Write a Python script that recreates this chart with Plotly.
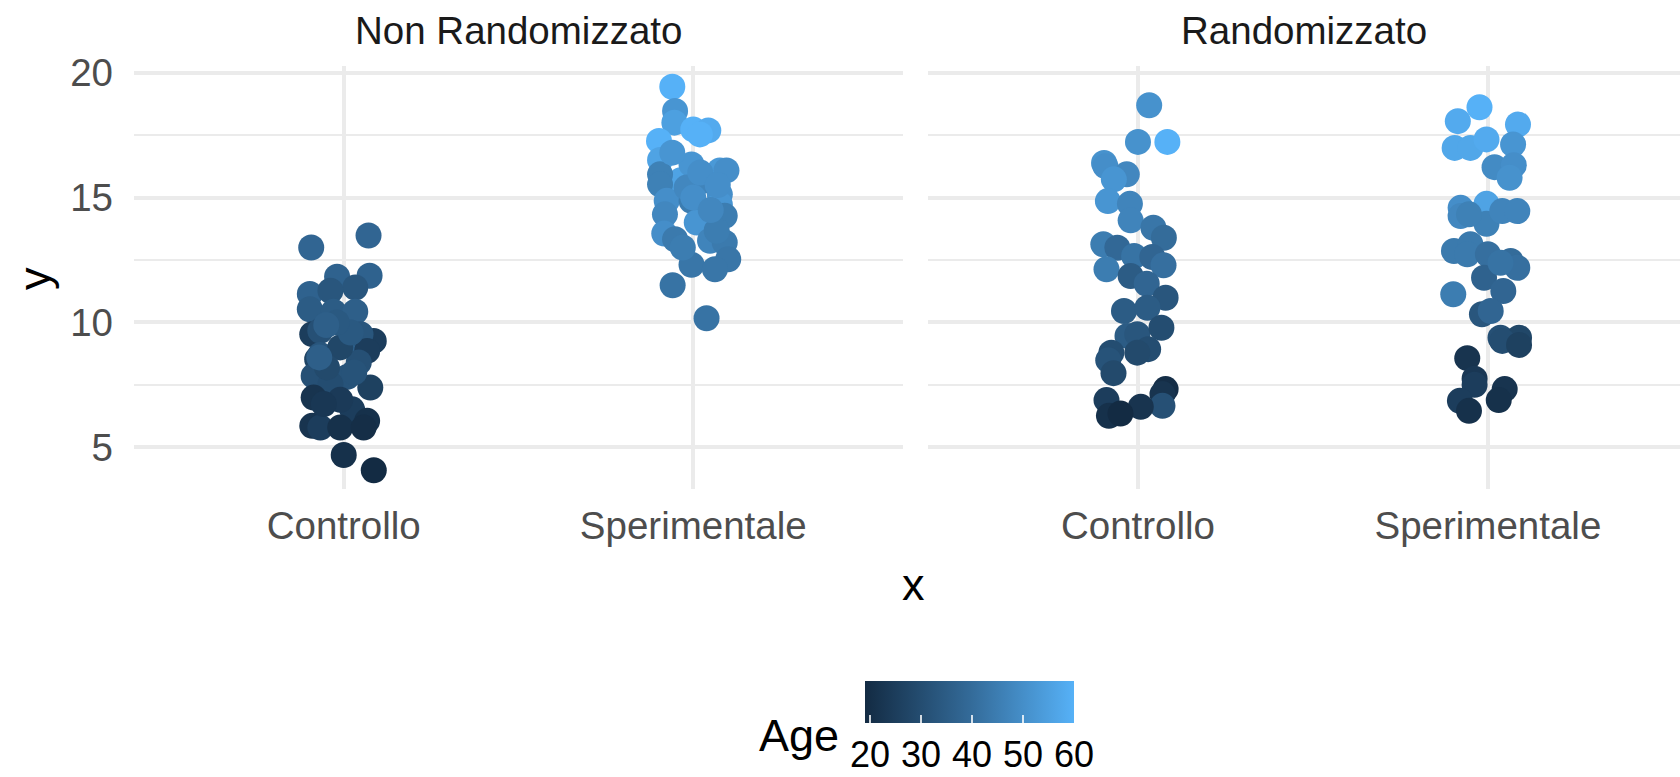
import plotly.graph_objects as go

# Group labels
categories = ["Controllo", "Sperimentale"]
panels = ["Non Randomizzato", "Randomizzato"]

# Non Randomizzato - Controllo
nr_ctrl_jitter = [-0.093, 0.071, -0.019, 0.074, -0.097, 0.033, -0.038, -0.097, -0.029, 0.033,
                  -0.090, -0.067, 0.086, 0.024, 0.048, -0.067, -0.076, 0.067, 0.010, -0.086,
                  -0.038, 0.043, 0.076, -0.086, 0.024, -0.090, -0.067, -0.010, 0.067, 0.057,
                  0.000, 0.086, -0.010, -0.048, -0.010, -0.057, -0.070, 0.020, -0.020, 0.030,
                  -0.050]
nr_ctrl_y = [13.0, 13.48, 11.83, 11.87, 11.14, 11.4, 11.27, 10.53, 10.43, 10.43,
             9.53, 9.67, 9.26, 9.33, 9.53, 8.70, 8.53, 8.86, 7.82, 7.86,
             7.53, 8.40, 7.39, 6.99, 6.52, 5.86, 5.79, 5.79, 6.06, 5.79,
             4.69, 4.08, 9.0, 8.2, 6.9, 6.73, 8.6, 9.6, 10.0, 8.0,
             9.9]
nr_ctrl_age = [38, 38, 37, 37, 37, 33, 33, 35, 35, 36,
               25, 31, 25, 37, 33, 33, 27, 25, 32, 31,
               30, 31, 26, 22, 25, 22, 25, 21, 21, 20,
               21, 19, 28, 29, 24, 23, 36, 34, 34, 32,
               36]

# Non Randomizzato - Sperimentale
nr_sper_jitter = [-0.060, -0.052, -0.054, 0.000, 0.043, 0.019, -0.098, -0.095, 0.076, 0.095,
                  -0.036, -0.005, -0.095, -0.095, 0.076, 0.076, 0.090, -0.076, -0.081, -0.005,
                  0.010, -0.083, -0.052, 0.048, 0.090, -0.005, 0.100, 0.062, -0.059, 0.038,
                  0.029, -0.019, 0.067, -0.060, 0.000, 0.050, -0.030, 0.020, 0.070]
nr_sper_y = [19.44, 18.47, 18.0, 17.73, 17.69, 17.53, 17.27, 16.51, 16.09, 16.09,
             15.69, 16.33, 15.93, 15.53, 15.13, 14.73, 14.27, 14.87, 14.33, 14.87,
             14.0, 13.56, 13.33, 13.27, 13.20, 12.31, 12.53, 12.13, 11.49, 10.17,
             15.67, 15.4, 13.67, 16.8, 15.0, 14.5, 13.0, 16.0, 15.5]
nr_sper_age = [60, 52, 55, 60, 58, 60, 60, 56, 53, 50,
               56, 52, 46, 46, 50, 52, 45, 50, 48, 45,
               52, 50, 44, 47, 44, 43, 43, 43, 42, 42,
               47, 48, 45, 52, 50, 48, 45, 50, 50]

# Randomizzato - Controllo
r_ctrl_jitter = [0.032, 0.000, 0.084, -0.097, -0.093, -0.032, -0.069, -0.086, -0.023, -0.021,
                 0.044, 0.074, -0.099, -0.059, -0.011, 0.041, 0.073, -0.090, -0.021, 0.025,
                 0.079, -0.040, 0.027, -0.030, -0.002, 0.067, 0.029, -0.076, -0.085, -0.070,
                 -0.002, 0.079, 0.070, -0.090, 0.070, 0.008, -0.083, -0.050]
r_ctrl_y = [18.7, 17.23, 17.23, 16.39, 16.26, 15.93, 15.73, 14.86, 14.75, 14.09,
            13.79, 13.39, 13.13, 12.99, 12.66, 12.62, 12.29, 12.13, 11.86, 11.55,
            10.99, 10.46, 10.59, 9.46, 9.53, 9.79, 8.93, 8.79, 8.49, 7.97,
            8.79, 7.33, 7.13, 6.89, 6.66, 6.62, 6.26, 6.35]
r_ctrl_age = [51, 51, 60, 51, 50, 48, 52, 52, 47, 47,
              43, 40, 45, 39, 42, 38, 41, 45, 35, 38,
              33, 35, 35, 35, 33, 30, 30, 30, 32, 29,
              29, 20, 22, 25, 31, 22, 21, 19]

# Randomizzato - Sperimentale
r_sper_jitter = [-0.024, -0.086, 0.086, -0.095, -0.050, -0.004, 0.072, 0.019, 0.074, 0.062,
                 -0.078, -0.078, -0.004, -0.004, -0.054, 0.041, 0.084, -0.097, -0.050, -0.059,
                 0.000, -0.011, 0.065, 0.084, 0.036, -0.099, 0.044, -0.017, 0.008, 0.036,
                 0.089, 0.041, -0.059, -0.038, -0.038, -0.080, -0.054, 0.048, 0.031, 0.089]
r_sper_y = [18.62, 18.06, 17.93, 16.99, 16.99, 17.33, 17.13, 16.22, 16.3, 15.79,
            14.59, 14.26, 14.75, 13.95, 14.33, 14.46, 14.46, 12.86, 13.13, 12.73,
            12.73, 11.79, 12.46, 12.19, 12.39, 11.13, 11.26, 10.33, 10.46, 9.39,
            9.39, 9.26, 8.57, 7.75, 7.5, 6.86, 6.46, 7.33, 6.89, 9.1]
r_sper_age = [60, 58, 58, 57, 57, 58, 52, 49, 50, 51,
              50, 48, 56, 46, 46, 47, 47, 44, 44, 44,
              41, 37, 40, 41, 42, 45, 38, 33, 38, 31,
              28, 30, 22, 23, 25, 25, 21, 22, 21, 26]

age_min, age_max = 19, 60
colorscale = [[0.0, "#132B43"], [0.5, "#336A98"], [1.0, "#56B1F7"]]

FONT = "Liberation Sans"
GRID = "#EBEBEB"

groups = [
    ("x", "y", 1, nr_ctrl_jitter, nr_ctrl_y, nr_ctrl_age),
    ("x", "y", 2, nr_sper_jitter, nr_sper_y, nr_sper_age),
    ("x2", "y2", 1, r_ctrl_jitter, r_ctrl_y, r_ctrl_age),
    ("x2", "y2", 2, r_sper_jitter, r_sper_y, r_sper_age),
]

fig = go.Figure()
for i, (xa, ya, pos, jit, yv, age) in enumerate(groups):
    fig.add_trace(go.Scatter(
        x=[pos + j for j in jit], y=yv, xaxis=xa, yaxis=ya,
        mode="markers",
        marker=dict(
            size=26, color=age, colorscale=colorscale, cmin=age_min, cmax=age_max,
            line=dict(width=0),
            showscale=(i == 0),
            colorbar=dict(
                orientation="h", lenmode="pixels", len=209, thickness=42,
                x=0.5404, xanchor="center", y=-0.4539, yanchor="top",
                xpad=0, ypad=0, outlinewidth=0,
                tickvals=[20, 30, 40, 50, 60], ticks="inside", ticklen=8,
                tickcolor="rgba(255,255,255,0.8)", tickwidth=2,
                tickfont=dict(family=FONT, size=36, color="#000000"),
            ),
        ),
        showlegend=False, hoverinfo="skip",
    ))

xaxis_common = dict(
    tickvals=[1, 2], ticktext=categories, showgrid=True, gridcolor=GRID, gridwidth=4,
    zeroline=False, showline=False, ticks="", tickfont=dict(family=FONT, size=38.5, color="#4D4D4D"),
    ticklabelstandoff=10, fixedrange=True,
)
yaxis_common = dict(
    range=[3.33, 20.27], tickvals=[5, 10, 15, 20], showgrid=True, gridcolor=GRID, gridwidth=4,
    minor=dict(tickvals=[7.5, 12.5, 17.5], showgrid=True, gridcolor=GRID, gridwidth=2),
    zeroline=False, showline=False, ticks="",
    tickfont=dict(family=FONT, size=38.5, color="#4D4D4D"), fixedrange=True,
)

plot_h = 777 - 66 - 288
strip_y = (489 - 30) / plot_h

fig.update_layout(
    width=1680, height=777,
    margin=dict(l=134, r=0, t=66, b=288, autoexpand=False),
    plot_bgcolor="white", paper_bgcolor="white",
    xaxis=dict(domain=[0, 0.4974], range=[0.4, 2.6], **xaxis_common),
    xaxis2=dict(domain=[0.5136, 1.0], range=[0.4, 2.549], **xaxis_common),
    yaxis=dict(ticklabelstandoff=20, **yaxis_common),
    yaxis2=dict(anchor="x2", showticklabels=False, **yaxis_common),
    annotations=[
        dict(text=panels[0], x=0.2487, y=strip_y, xref="paper", yref="paper", showarrow=False,
             font=dict(family=FONT, size=38.5, color="#1A1A1A"), xanchor="center", yanchor="middle"),
        dict(text=panels[1], x=0.7568, y=strip_y, xref="paper", yref="paper", showarrow=False,
             font=dict(family=FONT, size=38.5, color="#1A1A1A"), xanchor="center", yanchor="middle"),
        dict(text="x", x=0.5045, y=-0.2246, xref="paper", yref="paper", showarrow=False,
             font=dict(family=FONT, size=45, color="#000000"), xanchor="center", yanchor="middle"),
        dict(text="y", x=-0.0647, y=0.4988, xref="paper", yref="paper", showarrow=False, textangle=-90,
             font=dict(family=FONT, size=45, color="#000000"), xanchor="center", yanchor="middle"),
        dict(text="Age", x=0.4302, y=-0.5816, xref="paper", yref="paper", showarrow=False,
             font=dict(family=FONT, size=45, color="#000000"), xanchor="center", yanchor="middle"),
    ],
)

fig.write_html("out.html")
